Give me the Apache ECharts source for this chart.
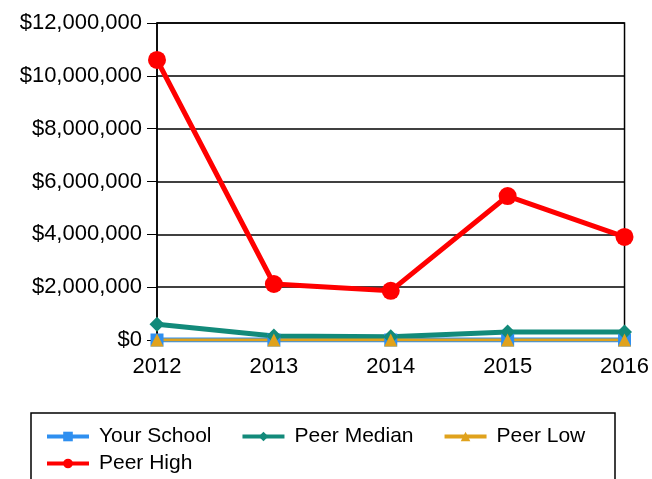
<!DOCTYPE html>
<html><head><meta charset="utf-8">
<script src="https://cdn.jsdelivr.net/npm/echarts@6/dist/echarts.min.js"></script>
<style>html,body{margin:0;padding:0;background:#fff}#c{width:652px;height:479px}</style>
</head><body><div id="c"></div>
<script>
var years = ['2012','2013','2014','2015','2016'];
var yourSchool = [0, 0, 0, 0, 0];
var peerMedian = [600000, 150000, 120000, 300000, 300000];
var peerLow = [0, 0, 0, 0, 0];
var peerHigh = [10600000, 2120000, 1860000, 5450000, 3900000];

var chart = echarts.init(document.getElementById('c'));
var font = 'Liberation Sans, Arial, sans-serif';
function fmt(v){ return '$' + v.toLocaleString('en-US'); }
var legendText = {color: '#000', fontSize: 21, fontFamily: font, padding: [0, 0, 0, 5]};
chart.setOption({
  animation: false,
  grid: {left: 157, right: 26, top: 23, bottom: 139, show: true, borderColor: '#000', borderWidth: 1.5},
  xAxis: {
    type: 'category', data: years, boundaryGap: false,
    axisLine: {lineStyle: {color: '#000', width: 1.5}},
    axisTick: {show: true, alignWithLabel: true, inside: true, length: 8, lineStyle: {color: '#000'}},
    axisLabel: {color: '#000', fontSize: 22, fontFamily: font, margin: 16}
  },
  yAxis: {
    type: 'value', min: 0, max: 12000000, interval: 2000000,
    axisLine: {show: true, lineStyle: {color: '#000', width: 1.5}},
    axisTick: {show: true, length: 10, lineStyle: {color: '#000'}},
    splitLine: {lineStyle: {color: '#000', width: 1.5}},
    axisLabel: {color: '#000', fontSize: 22, fontFamily: font, margin: 15, formatter: fmt}
  },
  legend: [
    {left: 45, top: 426, itemWidth: 42, itemHeight: 12, itemGap: 29, padding: 0,
     lineStyle: {width: 4}, textStyle: legendText, data: ['Your School', 'Peer Median', 'Peer Low']},
    {left: 45, top: 453, itemWidth: 42, itemHeight: 12, itemGap: 29, padding: 0,
     lineStyle: {width: 4}, textStyle: legendText, data: ['Peer High']}
  ],
  graphic: [{type: 'rect', shape: {x: 31, y: 413, width: 584, height: 90}, style: {fill: 'none', stroke: '#000', lineWidth: 1.5}}],
  series: [
    {name: 'Your School', type: 'line', data: yourSchool, color: '#2e8ff0', symbol: 'rect', symbolSize: 13, lineStyle: {width: 5}},
    {name: 'Peer Median', type: 'line', data: peerMedian, color: '#128a7a', symbol: 'diamond', symbolSize: 15, lineStyle: {width: 5}},
    {name: 'Peer Low', type: 'line', data: peerLow, color: '#e0a21c', symbol: 'triangle', symbolSize: 13, lineStyle: {width: 3}},
    {name: 'Peer High', type: 'line', data: peerHigh, color: '#ff0000', symbol: 'circle', symbolSize: 18, lineStyle: {width: 5}}
  ]
});
</script></body></html>
